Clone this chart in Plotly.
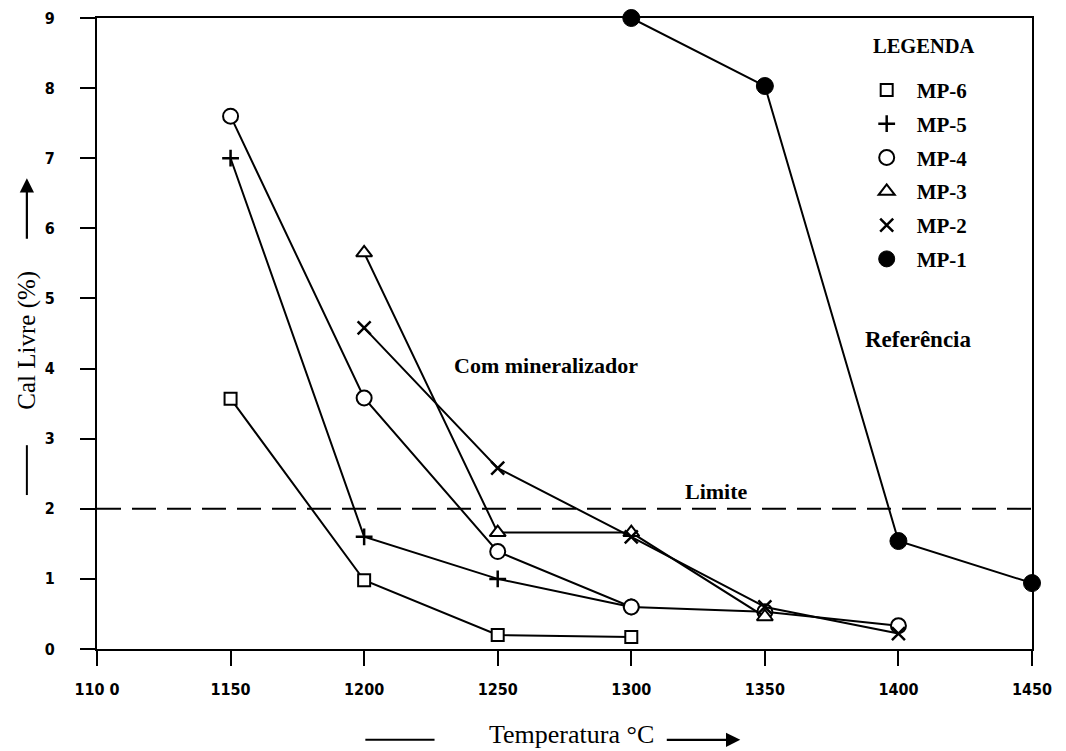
import plotly.graph_objects as go

# ---- data ----
temps_mp6 = [1150, 1200, 1250, 1300]
cal_mp6 = [3.57, 0.98, 0.20, 0.17]

temps_mp5 = [1150, 1200, 1250, 1300]
cal_mp5 = [7.0, 1.6, 1.0, 0.6]

temps_mp4 = [1150, 1200, 1250, 1300, 1350, 1400]
cal_mp4 = [7.6, 3.58, 1.39, 0.6, 0.53, 0.33]

temps_mp3 = [1200, 1250, 1300, 1350]
cal_mp3 = [5.65, 1.66, 1.66, 0.46]

temps_mp2 = [1200, 1250, 1300, 1350, 1400]
cal_mp2 = [4.58, 2.58, 1.6, 0.6, 0.22]

temps_mp1 = [1300, 1350, 1400, 1450]
cal_mp1 = [9.0, 8.03, 1.54, 0.94]

limite = 2.0
x_tickvals = [1100, 1150, 1200, 1250, 1300, 1350, 1400, 1450]
x_ticktext = ["110 0", "1150", "1200", "1250", "1300", "1350", "1400", "1450"]
y_tickvals = [0, 1, 2, 3, 4, 5, 6, 7, 8, 9]

SERIF = "Liberation Serif"
TICKFONT = dict(family="DejaVu Sans Condensed, Roboto, sans-serif", size=16, color="black", weight="bold")

series = [
    ("MP-6", temps_mp6, cal_mp6, dict(symbol="square", size=12, color="white", line=dict(color="black", width=2))),
    ("MP-5", temps_mp5, cal_mp5, dict(symbol="cross-thin", size=12, color="black", line=dict(color="black", width=2.5))),
    ("MP-4", temps_mp4, cal_mp4, dict(symbol="circle", size=15, color="white", line=dict(color="black", width=2))),
    ("MP-3", temps_mp3, cal_mp3, dict(symbol="triangle-up", size=14, color="white", line=dict(color="black", width=2))),
    ("MP-2", temps_mp2, cal_mp2, dict(symbol="x-thin", size=13, color="black", line=dict(color="black", width=2.5))),
    ("MP-1", temps_mp1, cal_mp1, dict(symbol="circle", size=17, color="black", line=dict(color="black", width=1))),
]

fig = go.Figure()

# data traces (drawn from the named arrays)
for name, xs, ys, mk in series:
    fig.add_trace(go.Scatter(
        x=xs, y=ys, mode="lines+markers", name=name, showlegend=False,
        line=dict(color="black", width=2), marker=mk, cliponaxis=False,
    ))

# legend-only entries (marker only)
for i, (name, xs, ys, mk) in enumerate(series):
    fig.add_trace(go.Scatter(
        x=[None], y=[None], mode="markers", name=name, marker=mk,
        legendgroup=f"g{i}", showlegend=True,
    ))

# limit line
fig.add_shape(type="line", xref="x", yref="y", x0=1100, x1=1450, y0=limite, y1=limite,
              line=dict(color="black", width=2, dash="24px,11px"))

# text annotations
fig.add_annotation(x=1268, y=4.04, text="Com mineralizador", showarrow=False,
                   font=dict(family=SERIF, size=22, color="black", weight="bold"))
fig.add_annotation(x=1407.5, y=4.42, text="Referência", showarrow=False,
                   font=dict(family=SERIF, size=23, color="black", weight="bold"))
fig.add_annotation(x=1332, y=2.24, text="Limite", showarrow=False,
                   font=dict(family=SERIF, size=22, color="black", weight="bold"))
fig.add_annotation(xref="paper", yref="paper", x=0.8845, y=0.955, text="LEGENDA", showarrow=False,
                   xanchor="center", yanchor="middle",
                   font=dict(family=SERIF, size=20.5, color="black", weight="bold"))

# axis titles with decorative dash + arrow
fig.add_annotation(xref="paper", yref="paper", x=0.508, y=-0.136, text="Temperatura °C",
                   xanchor="center", yanchor="middle", showarrow=False,
                   font=dict(family=SERIF, size=26, color="black"))
fig.add_shape(type="line", xref="paper", yref="paper", x0=0.287, x1=0.361, y0=-0.144, y1=-0.144,
              line=dict(color="black", width=2))
fig.add_annotation(xref="paper", yref="paper", x=0.688, y=-0.144, ax=-75, ay=0, text="",
                   showarrow=True, arrowhead=2, arrowsize=1.3, arrowwidth=2.2, arrowcolor="black")

fig.add_annotation(xref="paper", yref="paper", x=-0.075, y=0.49, text="Cal Livre (%)",
                   xanchor="center", yanchor="middle", textangle=-90, showarrow=False,
                   font=dict(family=SERIF, size=25, color="black"))
fig.add_shape(type="line", xref="paper", yref="paper", x0=-0.075, x1=-0.075, y0=0.244, y1=0.323,
              line=dict(color="black", width=2))
fig.add_annotation(xref="paper", yref="paper", x=-0.075, y=0.746, ax=0, ay=62, text="",
                   showarrow=True, arrowhead=2, arrowsize=1.3, arrowwidth=2.2, arrowcolor="black")

fig.update_layout(
    width=1058, height=743,
    margin=dict(l=89, r=34, t=10, b=102, autoexpand=False),
    plot_bgcolor="white", paper_bgcolor="white",
    showlegend=True,
    legend=dict(
        x=0.8125, y=0.918, xanchor="left", yanchor="top",
        bgcolor="rgba(0,0,0,0)",
        font=dict(family=SERIF, size=21, color="black", weight="bold"),
        tracegroupgap=3.5, itemwidth=50,
    ),
    xaxis=dict(
        range=[1100, 1450], tickvals=x_tickvals, ticktext=x_ticktext, automargin=False,
        showgrid=False, zeroline=False, showline=True, linecolor="black", linewidth=2,
        mirror=True, ticks="outside", ticklen=15, tickwidth=2, tickcolor="black",
        tickfont=TICKFONT, ticklabelstandoff=10,
    ),
    yaxis=dict(
        range=[0, 9], tickvals=y_tickvals, automargin=False,
        showgrid=False, zeroline=False, showline=True, linecolor="black", linewidth=2,
        mirror=True, ticks="outside", ticklen=15, tickwidth=2, tickcolor="black",
        tickfont=TICKFONT, ticklabelstandoff=22,
    ),
)

fig.write_html("out.html")
